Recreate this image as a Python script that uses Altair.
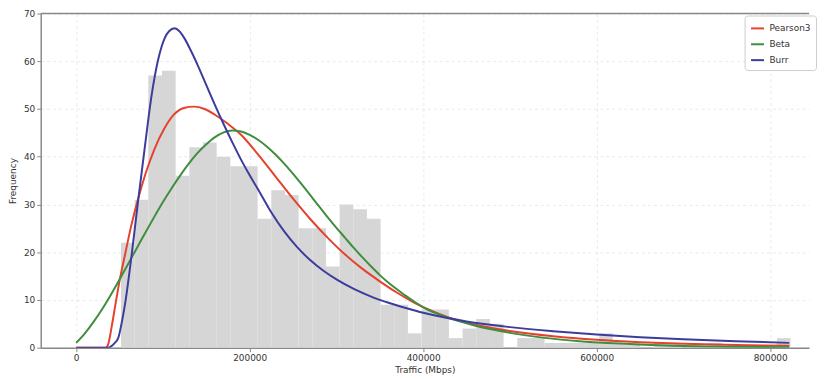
import altair as alt
import pandas as pd

# ---- histogram (49 bins) ----
HIST_START = 51650
HIST_WIDTH = 15750
HIST_COUNTS = [22, 31, 57, 58, 36, 42, 43, 40, 38, 38,
               27, 33, 32, 25, 25, 17, 30, 29, 27, 9,
               9, 3, 8, 8, 2, 4, 6, 5, 0, 2,
               2, 1, 1, 1, 1, 3, 1, 1, 0, 1,
               1, 0, 0, 1, 0, 0, 0, 0, 2]

# ---- fitted curves ----
PEARSON_X = [0, 34000, 37000, 41000, 44800, 50000, 56200, 63000, 71400, 80000,
             90000, 101900, 112000, 124000, 136000, 148000, 160000, 174000, 190000, 210000,
             230000, 250000, 270000, 290000, 310000, 330000, 350000, 370000, 390000, 410000,
             430000, 450000, 470000, 500000, 550000, 600000, 650000, 700000, 760000, 822000]
PEARSON_Y = [0, 0, 0.8, 4.5, 8.6, 14.0, 19.4, 25.2, 31.2, 36.5,
             41.5, 46.0, 48.7, 50.2, 50.5, 50.0, 48.8, 47.0, 44.6, 40.4,
             35.8, 31.2, 26.9, 23.0, 19.5, 16.5, 13.9, 11.5, 9.4, 7.7,
             6.3, 5.25, 4.45, 3.5, 2.4, 1.65, 1.15, 0.8, 0.55, 0.4]

BETA_X = [0, 10000, 20000, 30000, 40000, 50000, 60000, 70000, 80000, 90000,
          100000, 110000, 120000, 130000, 140000, 150000, 160000, 170000, 180000, 190000,
          200000, 210000, 220000, 230000, 240000, 250000, 260000, 270000, 280000, 290000,
          300000, 310000, 320000, 330000, 340000, 350000, 360000, 370000, 380000, 390000,
          400000, 420000, 440000, 460000, 480000, 500000, 540000, 580000, 620000, 680000,
          750000, 822000]
BETA_Y = [1.0, 3.0, 5.4, 8.1, 11.1, 14.3, 17.6, 20.9, 24.2, 27.4,
          30.5, 33.4, 36.1, 38.6, 40.8, 42.6, 44.1, 45.1, 45.5, 45.3,
          44.6, 43.5, 42.1, 40.4, 38.5, 36.4, 34.2, 31.9, 29.6, 27.3,
          25.1, 23.0, 20.9, 18.9, 17.0, 15.2, 13.6, 12.2, 10.85, 9.6,
          8.45, 6.85, 5.6, 4.6, 3.8, 3.1, 2.05, 1.35, 0.9, 0.45,
          0.2, 0.1]

BURR_X = [0, 36800, 40000, 44000, 48600, 52000, 56200, 63900, 71400, 79100,
          86700, 94300, 101900, 107000, 113400, 119000, 124800, 132000, 140000, 150000,
          160000, 170000, 180000, 190000, 200000, 212000, 225000, 240000, 255000, 270000,
          285000, 300000, 320000, 340000, 360000, 380000, 400000, 425000, 450000, 475000,
          500000, 550000, 600000, 650000, 700000, 760000, 822000]
BURR_Y = [0, 0, 0.25, 0.9, 2.1, 4.8, 9.0, 19.4, 30.8, 42.0,
          52.6, 60.2, 64.8, 66.3, 66.9, 66.3, 64.8, 62.3, 59.2, 55.0,
          50.8, 46.8, 43.0, 39.4, 36.1, 32.4, 28.3, 24.3, 21.0, 18.3,
          16.1, 14.3, 12.3, 10.7, 9.4, 8.3, 7.3, 6.3, 5.5, 4.85,
          4.3, 3.45, 2.75, 2.2, 1.75, 1.35, 1.0]

SERIES = ["Pearson3", "Beta", "Burr"]
COLORS = ["#e5422d", "#3e8e3e", "#3c3c9c"]
X_TICKS = [0, 200000, 400000, 600000, 800000]
Y_TICKS = [0, 10, 20, 30, 40, 50, 60, 70]

hist = pd.DataFrame({
    "x0": [HIST_START + i * HIST_WIDTH for i in range(len(HIST_COUNTS))],
    "x1": [HIST_START + (i + 1) * HIST_WIDTH for i in range(len(HIST_COUNTS))],
    "count": HIST_COUNTS,
    "zero": [0] * len(HIST_COUNTS),
})

curves = pd.concat([
    pd.DataFrame({"x": PEARSON_X, "y": PEARSON_Y, "dist": "Pearson3"}),
    pd.DataFrame({"x": BETA_X, "y": BETA_Y, "dist": "Beta"}),
    pd.DataFrame({"x": BURR_X, "y": BURR_Y, "dist": "Burr"}),
])

xscale = alt.Scale(domain=[-40900, 844800], nice=False, zero=False)
yscale = alt.Scale(domain=[0, 70], nice=False, zero=False)
xaxis = alt.Axis(values=X_TICKS, format="d", title="Traffic (Mbps)", grid=True,
                 labelPadding=2, titlePadding=3)
yaxis = alt.Axis(values=Y_TICKS, title="Frequency", grid=True,
                 labelPadding=2, titlePadding=6)

bars = alt.Chart(hist).mark_rect(color="#d6d6d6").encode(
    x=alt.X("x0:Q", scale=xscale, axis=xaxis),
    x2="x1:Q",
    y=alt.Y("count:Q", scale=yscale, axis=yaxis),
    y2="zero:Q",
)

lines = alt.Chart(curves).mark_line(strokeWidth=2, interpolate="monotone", clip=True).encode(
    x=alt.X("x:Q", scale=xscale, axis=xaxis),
    y=alt.Y("y:Q", scale=yscale, axis=yaxis),
    color=alt.Color("dist:N", sort=SERIES,
                    scale=alt.Scale(domain=SERIES, range=COLORS),
                    legend=alt.Legend(title=None, orient="none", legendX=710, legendY=2,
                                      symbolType="stroke", symbolSize=170,
                                      symbolStrokeWidth=2, labelFontSize=9,
                                      labelFont="DejaVu Sans", labelColor="#333",
                                      rowPadding=3, padding=5, fillColor="white",
                                      strokeColor="#cccccc", cornerRadius=3)),
)

top = alt.Chart(pd.DataFrame({"v": [70]})).mark_rule(color="#888888", strokeWidth=1.5).encode(
    y=alt.Y("v:Q", scale=yscale, axis=yaxis)
)

chart = alt.layer(bars, lines, top).properties(
    width=775, height=337, padding=0
).configure_view(stroke=None).configure_axis(
    labelFont="DejaVu Sans", titleFont="DejaVu Sans",
    labelFontSize=9, titleFontSize=9, titleFontWeight="normal",
    labelColor="#333333", titleColor="#333333",
    domainColor="#888888", domainWidth=1.5,
    tickColor="#888888", tickSize=4,
    gridColor="#e4e4e4", gridDash=[3, 3], gridWidth=0.8,
)

chart.save("out.html", embed_options={"renderer": "svg", "actions": False})
